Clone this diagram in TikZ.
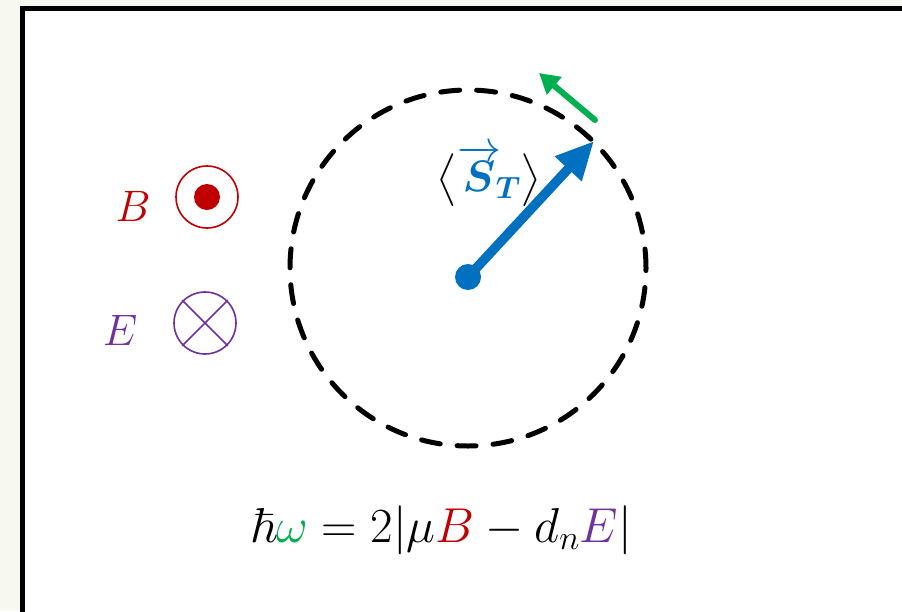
\RequirePackage{fix-cm}
\documentclass[tikz,border=0pt]{standalone}
\usepackage{amsmath,amssymb}
\usepackage{tikz}
\usetikzlibrary{arrows.meta}
\usepackage{xcolor}
\definecolor{spinblue}{HTML}{0070C0}
\definecolor{precgreen}{HTML}{00B050}
\definecolor{fieldred}{HTML}{C00000}
\definecolor{fieldpurple}{HTML}{7030A0}
\definecolor{pagebg}{HTML}{F7F9F1}
\newcommand{\bigtext}{\fontsize{44}{50}\selectfont}
\newcommand{\eqtext}{\fontsize{49}{56}\selectfont}

\begin{document}
\begin{tikzpicture}[x=1pt,y=-1pt,line cap=round,font=\bigtext,
  fieldsym/.style={circle,draw,line width=1.6pt,minimum size=62pt,inner sep=0pt}]
\useasboundingbox (0,0) rectangle (902,611);
\fill[pagebg] (0,0) rectangle (902,611);
\begin{scope}
\clip (0,0) rectangle (902,611);
\draw[line width=5pt,line cap=butt,fill=white] (22.5,8.5) rectangle (940,650);
\end{scope}
% precession orbit
\draw[line width=5pt,dash pattern=on 19pt off 17pt,line cap=round] (468,268) circle (178pt);
% spin
\node[circle,fill=spinblue,inner sep=0pt,minimum size=26pt] (spin) at (468,277) {};
\coordinate (spintip) at (594,141);
\draw[-{Triangle[length=38pt,width=34pt]},line width=9.5pt,line cap=butt,spinblue] (spin.center) -- (spintip);
\node[inner sep=0pt] (spinlabel) at (489,176) {$\bigl\langle{\color{spinblue}\overrightarrow{\boldsymbol{S}}_{\!\boldsymbol{T}}}\bigr\rangle$};
% precession direction
\coordinate (greenstart) at (595,120);
\coordinate (greenend) at (539,73);
\draw[-{Triangle[length=20pt,width=22pt]},line width=6pt,precgreen] (greenstart) -- (greenend);
% fields
\node[fieldsym,fieldred] (bsym) at (207,197) {};
\fill[fieldred] (bsym.center) circle (13pt);
\node[fieldred] (blabel) at (133,206) {$B$};
\node[fieldsym,fieldpurple] (esym) at (205,323) {};
\draw[fieldpurple,line width=1.6pt] (esym.north east) -- (esym.south west) (esym.north west) -- (esym.south east);
\node[fieldpurple] (elabel) at (120,330) {$E$};
% frequency
\node[font=\eqtext] (freq) at (441,530) {$\hbar{\color{precgreen}\omega}=2|\mu{\color{fieldred}B}-d_n{\color{fieldpurple}E}|$};
\end{tikzpicture}
\end{document}
